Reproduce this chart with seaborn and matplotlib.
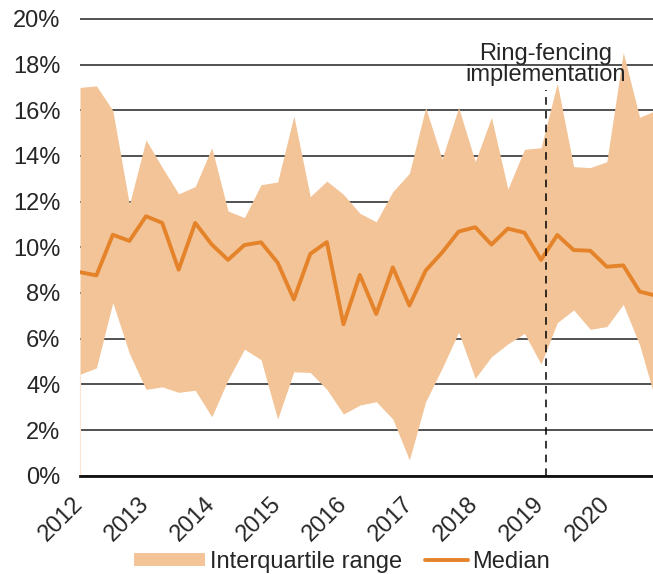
import pandas as pd
import numpy as np
import matplotlib
matplotlib.use("Agg")
import matplotlib.pyplot as plt
import matplotlib.dates as mdates
from matplotlib.ticker import PercentFormatter
from matplotlib.patches import Patch
from matplotlib.lines import Line2D
from matplotlib.legend_handler import HandlerLine2D
import seaborn as sns


quarters = ["2012Q1", "2012Q2", "2012Q3", "2012Q4",
            "2013Q1", "2013Q2", "2013Q3", "2013Q4",
            "2014Q1", "2014Q2", "2014Q3", "2014Q4",
            "2015Q1", "2015Q2", "2015Q3", "2015Q4",
            "2016Q1", "2016Q2", "2016Q3", "2016Q4",
            "2017Q1", "2017Q2", "2017Q3", "2017Q4",
            "2018Q1", "2018Q2", "2018Q3", "2018Q4",
            "2019Q1", "2019Q2", "2019Q3", "2019Q4",
            "2020Q1", "2020Q2", "2020Q3", "2020Q4"]

upper_q = [17.0, 17.07, 15.99, 11.88, 14.7, 13.5, 12.34, 12.66,
           14.36, 11.59, 11.30, 12.74, 12.86, 15.75, 12.22, 12.9,
           12.32, 11.49, 11.12, 12.44, 13.24, 16.12, 13.87, 16.12,
           13.75, 15.69, 12.55, 14.29, 14.36, 17.18, 13.53, 13.49,
           13.75, 18.53, 15.69, 16.0]

lower_q = [4.44, 4.72, 7.58, 5.35, 3.78, 3.89, 3.65, 3.74,
           2.58, 4.2, 5.54, 5.08, 2.48, 4.55, 4.52, 3.78,
           2.70, 3.09, 3.24, 2.48, 0.69, 3.24, 4.70, 6.28,
           4.26, 5.21, 5.77, 6.23, 4.89, 6.70, 7.26, 6.41,
           6.53, 7.50, 5.72, 3.2]

median = [8.91, 8.77, 10.55, 10.28, 11.36, 11.07, 9.02, 11.07,
          10.12, 9.45, 10.1, 10.22, 9.33, 7.72, 9.71, 10.23,
          6.63, 8.79, 7.08, 9.12, 7.45, 8.98, 9.77, 10.69,
          10.88, 10.12, 10.82, 10.64, 9.45, 10.54, 9.88, 9.85,
          9.15, 9.21, 8.06, 7.88]

ringfence_date = "2019-01-29"
ringfence_label = "Ring-fencing\nimplementation"

df = pd.DataFrame({"date": pd.PeriodIndex(quarters, freq="Q").to_timestamp(),
                   "q25": lower_q, "q75": upper_q, "median": median})

fill_col = "#F2C497"
line_col = "#E5832B"

sns.set_style("white")
plt.rcParams["font.family"] = ["Liberation Sans", "DejaVu Sans"]
plt.rcParams["font.size"] = 17

fig = plt.figure(figsize=(6.53, 5.74), dpi=100)
ax = fig.add_axes([80 / 653, 1 - 475.7 / 574, 573 / 653, 468.2 / 574])

ax.fill_between(df["date"], df["q25"], df["q75"], color=fill_col, lw=0, zorder=2)
sns.lineplot(data=df, x="date", y="median", ax=ax, color=line_col, lw=2.8, zorder=3)

# ring-fencing marker
ax.plot([pd.Timestamp(ringfence_date)] * 2, [0, 16.9], ls=(0, (5, 4)), color="black", lw=1.1, zorder=4)
ax.text(pd.Timestamp(ringfence_date), 18.0, ringfence_label, ha="center", va="center",
        fontsize=17, linespacing=0.97, zorder=5)

ax.set_ylim(0, 20.5)
ax.set_xlim(pd.Timestamp("2012-01-01"), pd.Timestamp("2020-09-13"))
ax.set_yticks(np.arange(0, 21, 2))
ax.yaxis.set_major_formatter(PercentFormatter(decimals=0))
ax.grid(axis="y", color="#222222", lw=1.1, zorder=1)
ax.set_axisbelow(True)

ax.xaxis.set_major_locator(mdates.YearLocator())
ax.xaxis.set_major_formatter(mdates.DateFormatter("%Y"))
ax.tick_params(axis="x", length=8, width=1.2, color="#555555", pad=10, labelsize=17)
ax.tick_params(axis="y", length=0, pad=14, labelsize=17)
for lab in ax.get_xticklabels():
    lab.set_rotation(45)
    lab.set_ha("right")
    lab.set_va("center")
    lab.set_rotation_mode("anchor")

for s in ["top", "right"]:
    ax.spines[s].set_visible(False)
ax.spines["left"].set_color("#FAE6D2")
ax.spines["left"].set_linewidth(0.8)
ax.spines["left"].set_bounds(0, lower_q[0])
ax.spines["bottom"].set_linewidth(2)
ax.spines["bottom"].set_color("#111111")
ax.spines["bottom"].set_zorder(5)
ax.set_xlabel("")
ax.set_ylabel("")


class RightLine(HandlerLine2D):
    def create_artists(self, legend, orig_handle, xdescent, ydescent, width, height, fontsize, trans):
        arts = super().create_artists(legend, orig_handle, xdescent, ydescent, width, height, fontsize, trans)
        y0 = np.asarray(arts[0].get_ydata())[0]
        arts[0].set_data([-xdescent + width * 0.4, -xdescent + width], [y0, y0])
        return arts


h1 = Patch(facecolor=fill_col, edgecolor="none")
h2 = Line2D([], [], color=line_col, lw=2.8)
fig.legend([h1, h2], ["Interquartile range", "Median"], loc="center", ncol=2,
           bbox_to_anchor=(0.524, 0.021), frameon=False, fontsize=17,
           handlelength=3.0, handleheight=0.5, handletextpad=0.2, columnspacing=-0.2,
           borderpad=0.1, handler_map={Line2D: RightLine()})

fig.savefig("out.png", dpi=100)
